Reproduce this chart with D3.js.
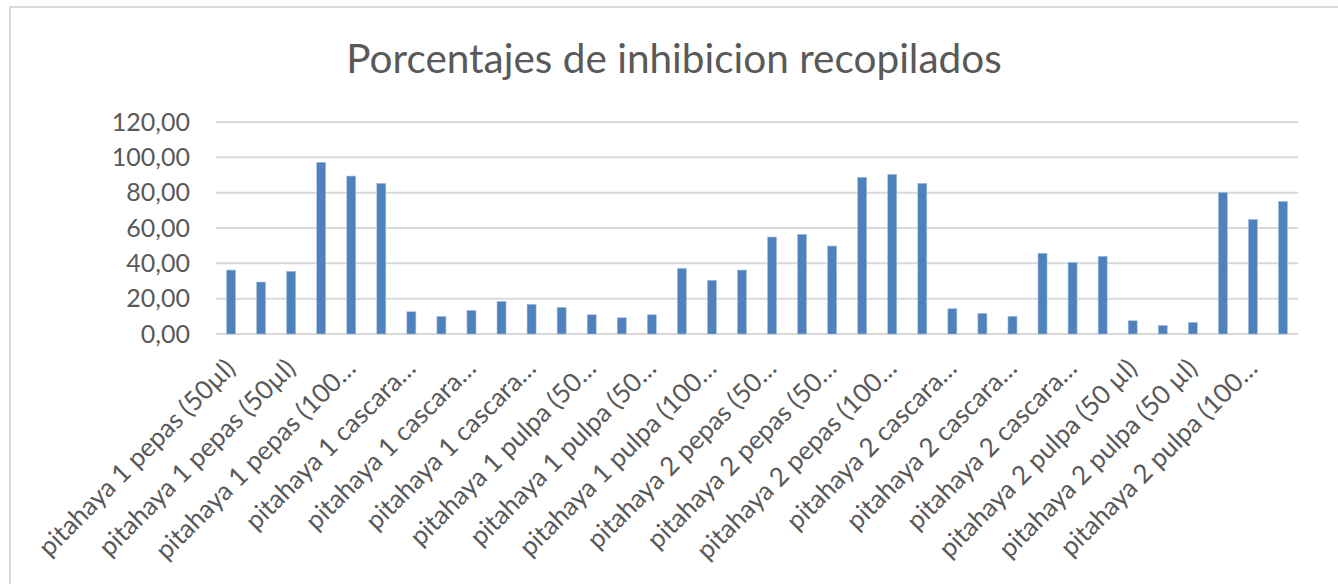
<!DOCTYPE html>
<html>
<head>
<meta charset="utf-8">
<script src="https://cdn.jsdelivr.net/npm/d3@7"></script>
<style>
  body { margin: 0; background: #fff; }
  svg text { font-family: Lato, "Open Sans", sans-serif; fill: #595959; }
</style>
</head>
<body>
<div id="chart-ctn"></div>
<script>
// Chart data
let categories = [
    "pitahaya 1 pepas (50µl)", "pitahaya 1 pepas (50µl)", "pitahaya 1 pepas (50µl)",
    "pitahaya 1 pepas (100µl)", "pitahaya 1 pepas (100µl)", "pitahaya 1 pepas (100µl)",
    "pitahaya 1 cascara (50µl)", "pitahaya 1 cascara (50µl)", "pitahaya 1 cascara (50µl)",
    "pitahaya 1 cascara (100µl)", "pitahaya 1 cascara (100µl)", "pitahaya 1 cascara (100µl)",
    "pitahaya 1 pulpa (50µl)", "pitahaya 1 pulpa (50µl)", "pitahaya 1 pulpa (50µl)",
    "pitahaya 1 pulpa (100µl)", "pitahaya 1 pulpa (100µl)", "pitahaya 1 pulpa (100µl)",
    "pitahaya 2 pepas (50µl)", "pitahaya 2 pepas (50µl)", "pitahaya 2 pepas (50µl)",
    "pitahaya 2 pepas (100µl)", "pitahaya 2 pepas (100µl)", "pitahaya 2 pepas (100µl)",
    "pitahaya 2 cascara (50µl)", "pitahaya 2 cascara (50µl)", "pitahaya 2 cascara (50µl)",
    "pitahaya 2 cascara (100µl)", "pitahaya 2 cascara (100µl)", "pitahaya 2 cascara (100µl)",
    "pitahaya 2 pulpa (50 µl)", "pitahaya 2 pulpa (50 µl)", "pitahaya 2 pulpa (50 µl)",
    "pitahaya 2 pulpa (100µl)", "pitahaya 2 pulpa (100µl)", "pitahaya 2 pulpa (100µl)"
];

let values = [
    36.2, 29.4, 35.5, 97.2, 89.4, 85.3,
    12.6, 10.0, 13.4, 18.5, 16.8, 15.1,
    10.9, 9.2, 10.9, 37.2, 30.4, 36.2,
    54.9, 56.4, 49.8, 88.7, 90.4, 85.3,
    14.3, 11.7, 10.0, 45.7, 40.6, 44.0,
    7.5, 4.9, 6.6, 80.2, 64.9, 75.1
];

// Excel only shows every other label, cut short
let tickLabels = [
    "pitahaya 1 pepas (50µl)", "pitahaya 1 pepas (50µl)", "pitahaya 1 pepas (100…",
    "pitahaya 1 cascara…", "pitahaya 1 cascara…", "pitahaya 1 cascara…",
    "pitahaya 1 pulpa (50…", "pitahaya 1 pulpa (50…", "pitahaya 1 pulpa (100…",
    "pitahaya 2 pepas (50…", "pitahaya 2 pepas (50…", "pitahaya 2 pepas (100…",
    "pitahaya 2 cascara…", "pitahaya 2 cascara…", "pitahaya 2 cascara…",
    "pitahaya 2 pulpa (50 µl)", "pitahaya 2 pulpa (50 µl)", "pitahaya 2 pulpa (100…"
];

let yTicks = [0, 20, 40, 60, 80, 100, 120];

let width = 1338;
let height = 584;

let svg = d3.select("#chart-ctn")
    .append("svg")
    .attr("width", width)
    .attr("height", height);

// chart border
svg.append("rect")
    .attr("x", 10)
    .attr("y", 7)
    .attr("width", width + 20)
    .attr("height", height + 20)
    .attr("fill", "#fff")
    .attr("stroke", "#d9d9d9")
    .attr("stroke-width", 2);

let keys = d3.range(categories.length);

let x = d3.scaleBand()
    .domain(keys)
    .range([216, 1298])
    .paddingInner(0.7)
    .paddingOuter(0.35);

let y = d3.scaleLinear()
    .domain([0, 120])
    .range([334, 122]);

// gridlines
svg.append("g")
    .selectAll("line")
    .data(yTicks)
    .join("line")
    .attr("x1", 216)
    .attr("x2", 1298)
    .attr("y1", d => y(d))
    .attr("y2", d => y(d))
    .attr("stroke", "#d9d9d9")
    .attr("stroke-width", 2);

// y labels
svg.append("g")
    .selectAll("text")
    .data(yTicks)
    .join("text")
    .attr("x", 190)
    .attr("y", d => y(d))
    .attr("dy", "0.35em")
    .attr("text-anchor", "end")
    .style("font-size", "25px")
    .text(d => d3.format(".2f")(d).replace(".", ","));

// bars
svg.append("g")
    .selectAll("rect")
    .data(values)
    .join("rect")
    .attr("x", (d, i) => x(i))
    .attr("y", d => y(d))
    .attr("width", x.bandwidth())
    .attr("height", d => y(0) - y(d))
    .attr("fill", "#4f81bd")
    .attr("stroke", "#a9c1e0")
    .attr("stroke-width", 0.6);

// x labels, every other category
svg.append("g")
    .selectAll("text")
    .data(tickLabels)
    .join("text")
    .attr("transform", (d, i) => {
        let cx = x(i * 2) + x.bandwidth() / 2 + 6;
        return `translate(${cx}, 370) rotate(-45)`;
    })
    .attr("text-anchor", "end")
    .style("font-size", "26px")
    .text(d => d);

// title
svg.append("text")
    .attr("x", 674)
    .attr("y", 73)
    .attr("text-anchor", "middle")
    .style("font-size", "40.5px")
    .text("Porcentajes de inhibicion recopilados");
</script>
</body>
</html>
